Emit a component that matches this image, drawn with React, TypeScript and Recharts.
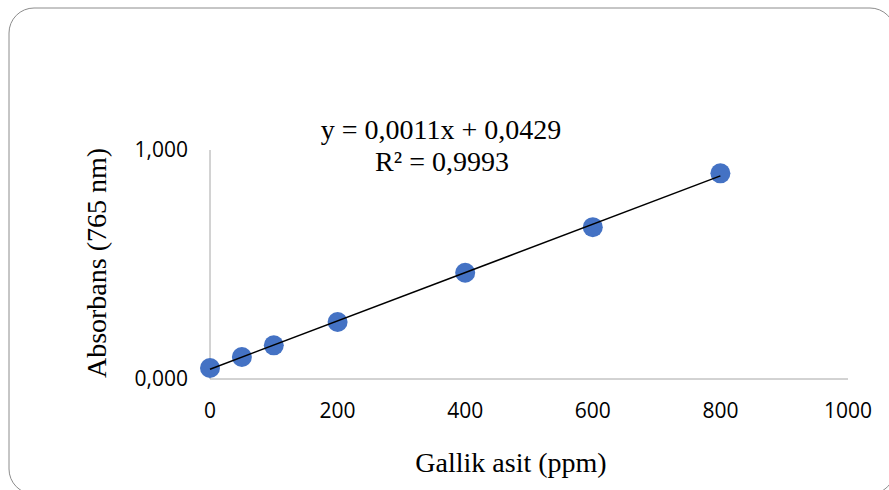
import { ScatterChart, Scatter, XAxis, YAxis } from 'recharts';

// Gallic acid standard curve, absorbance read at 765 nm
const concentrations = [0, 50, 100, 200, 400, 600, 800];
const absorbances = [0.048, 0.096, 0.147, 0.249, 0.464, 0.663, 0.898];

// linear fit shown on the chart
const slope = 0.001055;
const intercept = 0.0429;
const rSquared = 0.9993;
const fitRange = [0, 800];

const xTicks = [0, 200, 400, 600, 800, 1000];
const yTicks = [0, 1];

const points = concentrations.map((x, i) => ({ x, y: absorbances[i] }));
const trend = fitRange.map((x) => ({ x, y: slope * x + intercept }));

const comma = (v: number, digits: number) => v.toFixed(digits).replace('.', ',');

const serif = '"Liberation Serif", "Times New Roman", serif';
const sans = '"Open Sans", Calibri, sans-serif';

const Dot = (props: any) => <circle cx={props.cx} cy={props.cy} r={10} fill="#4472C4" />;

export default function App() {
  return (
    <div style={{ position: 'absolute', left: 0, top: 0, width: 889, height: 490, background: '#fff' }}>
      <ScatterChart width={889} height={490} margin={{ top: 150, right: 41, bottom: 71, left: 0 }}>
        <XAxis
          type="number"
          dataKey="x"
          domain={[0, 1000]}
          ticks={xTicks}
          tickLine={false}
          tickSize={0}
          tickMargin={24}
          height={40}
          axisLine={{ stroke: '#a6a6a6' }}
          tick={{ fontSize: 21, fill: '#000', fontFamily: sans }}
        />
        <YAxis
          type="number"
          dataKey="y"
          domain={[0, 1]}
          ticks={yTicks}
          tickFormatter={(v: number) => comma(v, 3)}
          tickLine={false}
          tickSize={0}
          tickMargin={22}
          width={210}
          axisLine={{ stroke: '#a6a6a6' }}
          tick={{ fontSize: 21, fill: '#000', fontFamily: sans }}
        />
        <Scatter data={points} shape={Dot} isAnimationActive={false} />
        <Scatter
          data={trend}
          line={{ stroke: '#000', strokeWidth: 1.5 }}
          shape={() => <g />}
          isAnimationActive={false}
        />
      </ScatterChart>
      <svg width={889} height={490} style={{ position: 'absolute', left: 0, top: 0, pointerEvents: 'none' }}>
        <rect x={9} y={8} width={886} height={486} rx={25} fill="none" stroke="#8c8c8c" strokeWidth={1} />
        <text x={441} y={139} textAnchor="middle" fontFamily={serif} fontSize={28} fill="#000">
          {`y = ${comma(slope, 4)}x + ${comma(intercept, 4)}`}
        </text>
        <text x={442} y={171} textAnchor="middle" fontFamily={serif} fontSize={28} fill="#000">
          {`R² = ${comma(rSquared, 4)}`}
        </text>
        <text x={511} y={472} textAnchor="middle" fontFamily={serif} fontSize={28} fill="#000">
          Gallik asit (ppm)
        </text>
        <text
          x={0}
          y={0}
          transform="translate(106 263) rotate(-90)"
          textAnchor="middle"
          fontFamily={serif}
          fontSize={28}
          fill="#000"
        >
          Absorbans (765 nm)
        </text>
      </svg>
    </div>
  );
}
